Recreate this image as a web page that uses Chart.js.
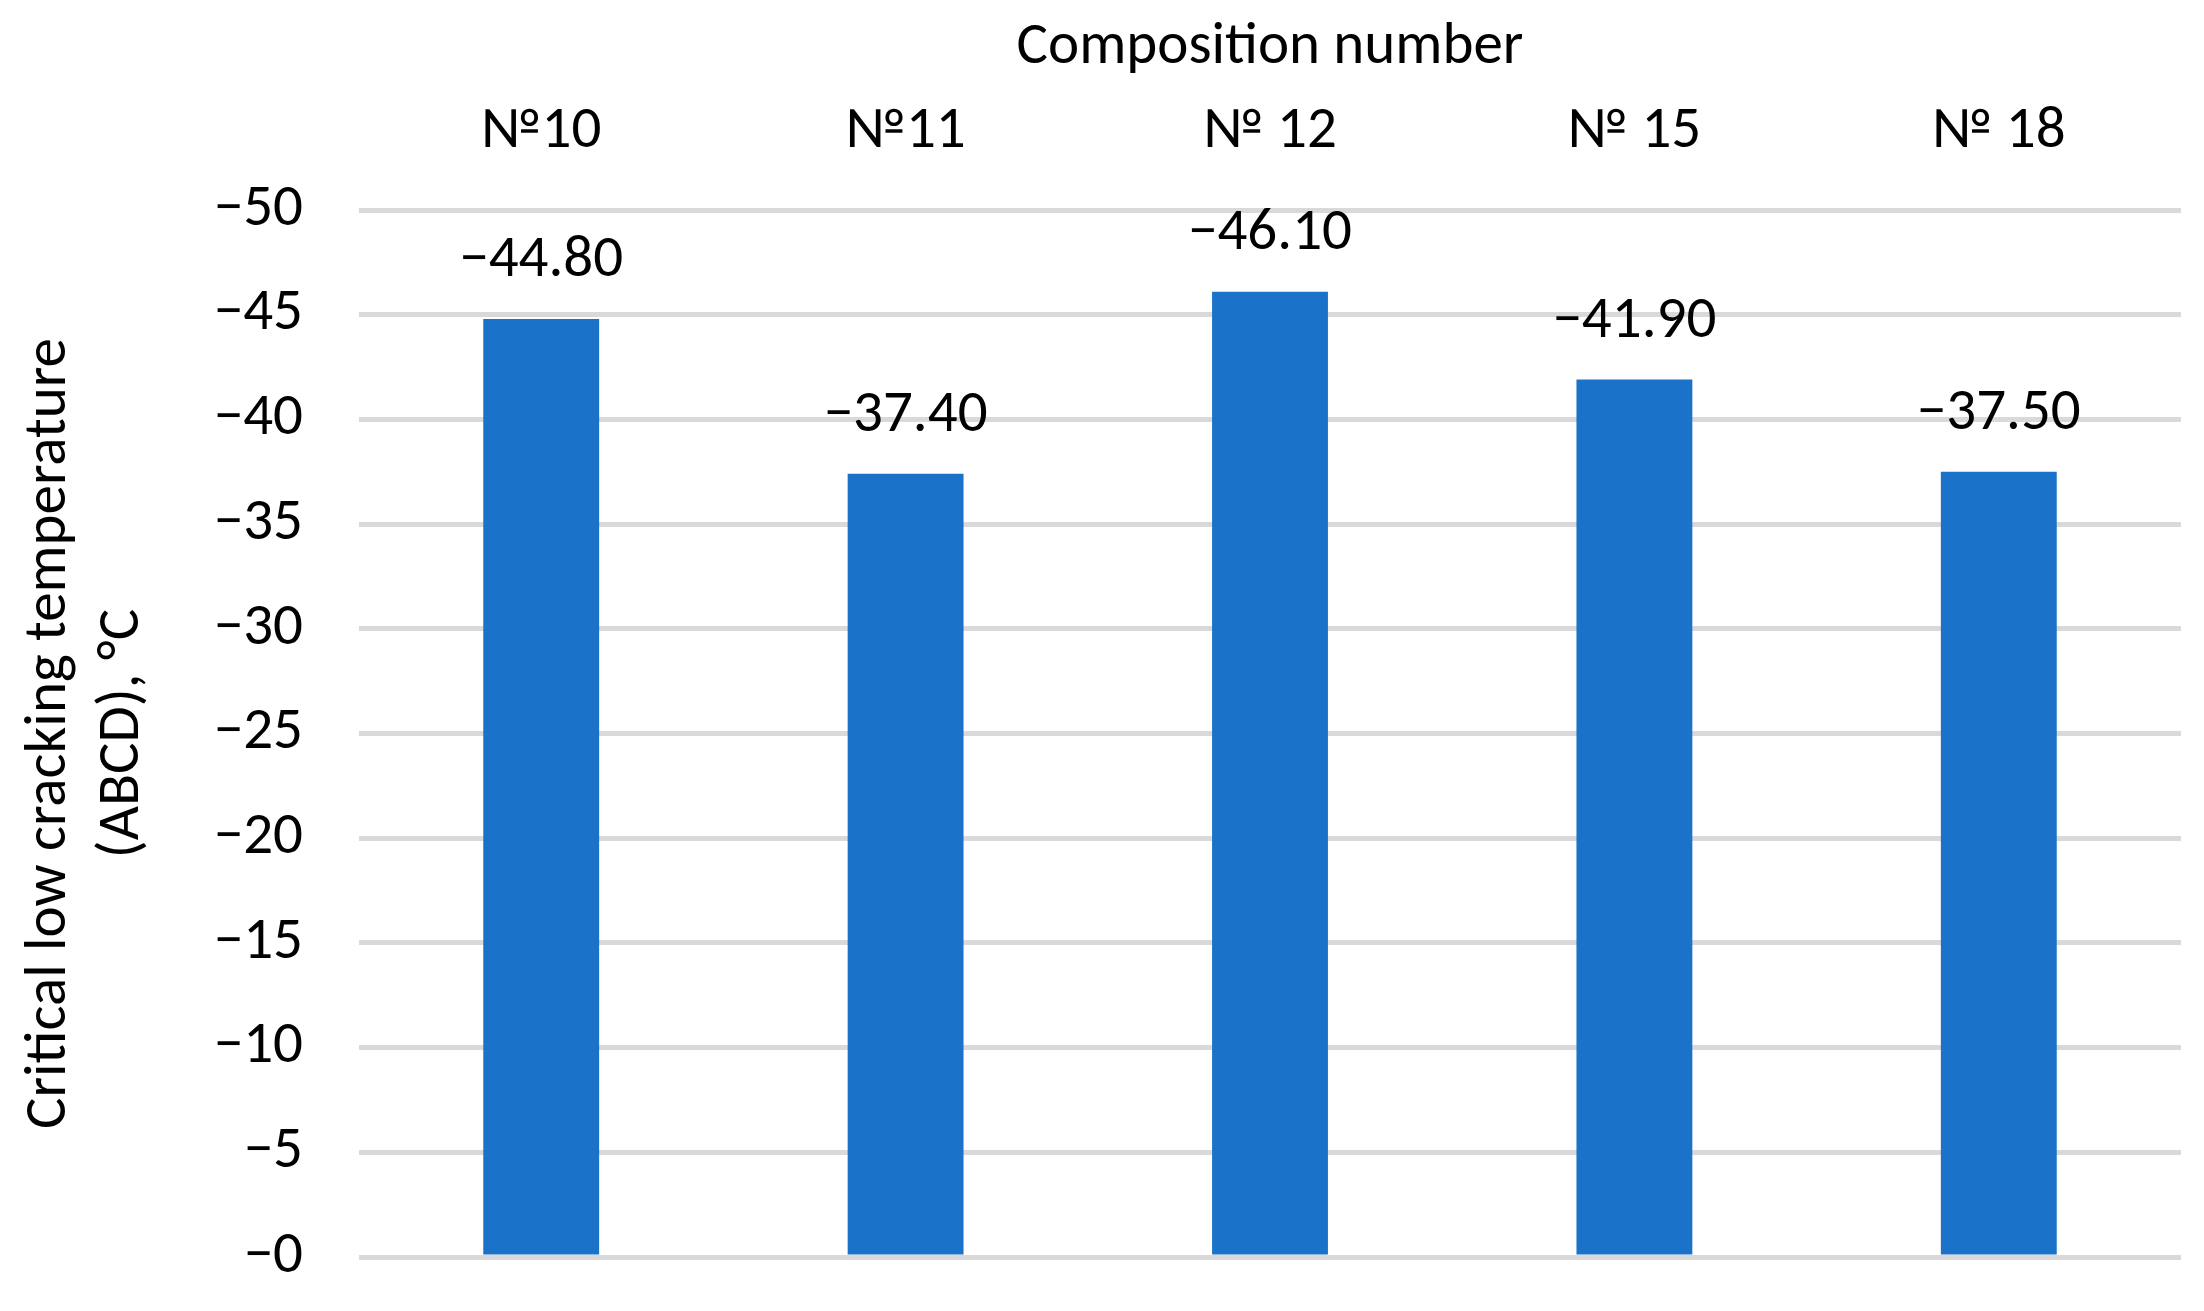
<!DOCTYPE html>
<html>
<head>
<meta charset="utf-8">
<title>Critical low cracking temperature</title>
<script src="https://cdn.jsdelivr.net/npm/chart.js"></script>
<style>
    html, body {
        margin: 0;
        padding: 0;
        background: #ffffff;
    }
    #wrap {
        width: 2204px;
        height: 1311px;
    }
</style>
</head>
<body>
<div id="wrap"><canvas id="chart" width="2204" height="1311"></canvas></div>
<script>
// Data
const compositions = ['№10', '№11', '№ 12', '№ 15', '№ 18'];
const crackTemps = [-44.8, -37.4, -46.1, -41.9, -37.5];
const yMin = -50;
const yMax = 0;
const yStep = 5;

const FONT = 'Carlito, Lato, "Open Sans", sans-serif';
const FS = 59;
const minus = (v) => (v <= 0 ? '\u2212' : '') + Math.abs(v);

// Draw value labels above each bar
const valueLabels = {
    id: 'valueLabels',
    afterDatasetsDraw(chart) {
        const ctx = chart.ctx;
        const meta = chart.getDatasetMeta(0);
        ctx.save();
        ctx.font = FS + 'px ' + FONT;
        ctx.fillStyle = '#000000';
        ctx.textAlign = 'center';
        ctx.textBaseline = 'alphabetic';
        meta.data.forEach((bar, i) => {
            const v = chart.data.datasets[0].data[i];
            ctx.fillText('\u2212' + Math.abs(v).toFixed(2), bar.x, bar.y - 43);
        });
        ctx.restore();
    }
};

const ctx = document.getElementById('chart').getContext('2d');
new Chart(ctx, {
    type: 'bar',
    data: {
        labels: compositions,
        datasets: [{
            label: 'Critical low cracking temperature',
            data: crackTemps,
            backgroundColor: '#1A73C8',
            borderWidth: 0,
            categoryPercentage: 1,
            barPercentage: 0.318
        }]
    },
    options: {
        responsive: false,
        animation: false,
        layout: {
            padding: { left: 0, right: 23, top: 0, bottom: 54 }
        },
        plugins: {
            legend: { display: false },
            tooltip: { enabled: false }
        },
        scales: {
            x: {
                position: 'top',
                grid: { display: false, drawTicks: false },
                border: { display: false },
                ticks: {
                    color: '#000000',
                    font: { family: FONT, size: FS },
                    padding: 42
                },
                title: {
                    display: true,
                    text: 'Composition number',
                    color: '#000000',
                    font: { family: FONT, size: FS },
                    padding: { top: 13, bottom: 0 }
                },
                afterFit: (scale) => { scale.height = 210; }
            },
            y: {
                reverse: true,
                min: yMin,
                max: yMax,
                grid: {
                    color: '#D9D9D9',
                    lineWidth: 5,
                    drawTicks: false
                },
                border: { display: false },
                ticks: {
                    stepSize: yStep,
                    color: '#000000',
                    font: { family: FONT, size: FS },
                    padding: 56,
                    callback: (v) => minus(v)
                },
                title: {
                    display: true,
                    text: ['Critical low cracking temperature', '(ABCD), °C'],
                    color: '#000000',
                    font: { family: FONT, size: FS, lineHeight: 1.24 },
                    padding: { top: 14, bottom: 0 }
                },
                afterFit: (scale) => {
                    scale.width = 359;
                    scale.paddingTop = 0;
                    scale.paddingBottom = 0;
                }
            }
        }
    },
    plugins: [valueLabels]
});
</script>
</body>
</html>
